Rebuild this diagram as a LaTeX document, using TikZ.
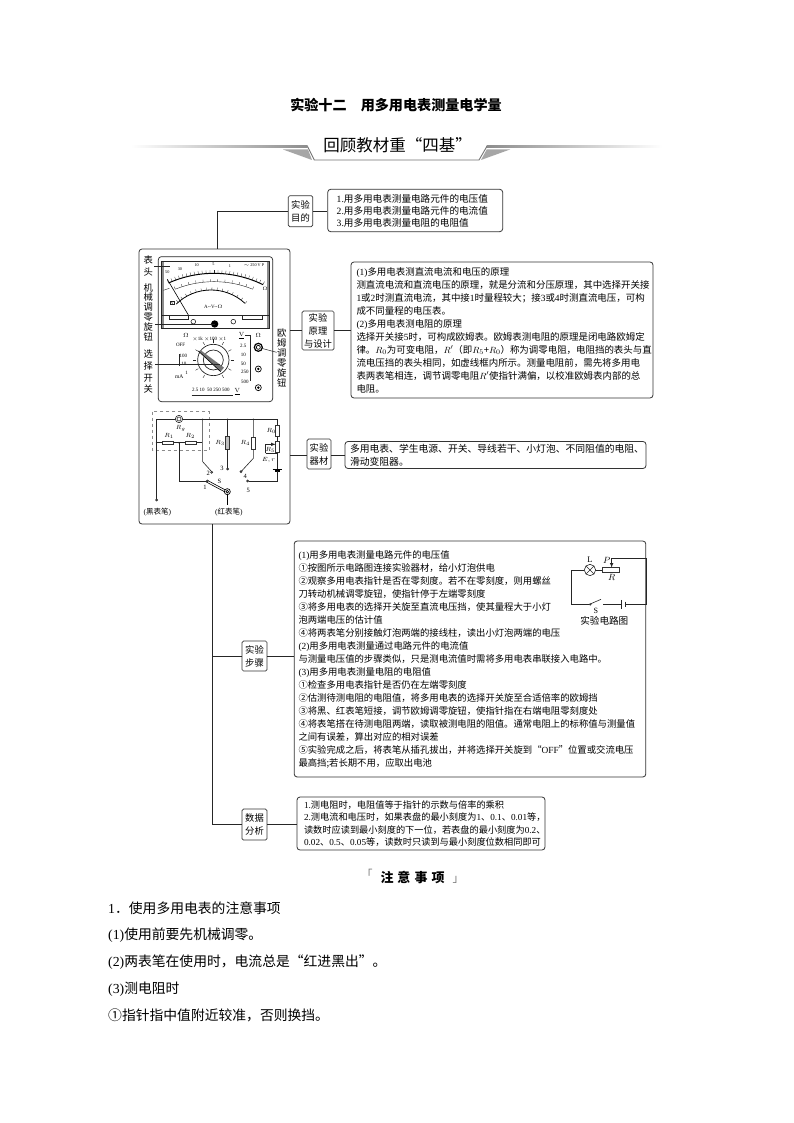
\documentclass[tikz,border=0pt]{standalone}
\usepackage[no-math]{fontspec}
\setmainfont{Noto Sans CJK SC}
\newfontfamily\latin{Liberation Serif}
\usepackage{amsmath}
\usetikzlibrary{calc}
\usetikzlibrary{positioning}
\newcommand{\lt}[1]{{\latin #1}}
\newcommand{\fs}[2]{\fontsize{#1}{#2}\selectfont}
\tikzset{>=latex}
\tikzset{tagbox/.style = {draw = black!80, rounded corners = 1.5pt, line width = 0.7pt, inner sep = 2pt, align = center, font = \fs{9.3}{13}}}
\tikzset{txtbox/.style = {draw = black!80, rounded corners = 3pt, line width = 0.8pt, inner ysep = 0pt, align = left}}
\tikzset{tiny/.style = {inner sep = 0, font = \fs{5}{6}\latin}}
\tikzset{dial/.style = {inner sep = 0, font = \fs{4.2}{5}\latin}}
\tikzset{lab/.style = {inner sep = 0, font = \fs{9.3}{10}}}
\tikzset{cir/.style = {inner sep = 0, font = \fs{6.5}{7}\latin}}
\tikzset{res/.style = {draw = black!80, fill = white, line width = 0.6pt}}
\tikzset{wire/.style = {draw = black!85, line width = 0.6pt}}
\tikzset{link/.style = {draw = black!85, line width = 0.7pt}}
\tikzset{bodytxt/.style = {anchor = west, inner sep = 0, font = \fs{13.8}{16}}}
\begin{document}
\begin{tikzpicture}[x = 1pt, y = -1pt]
\useasboundingbox [fill = white] (0, 0) rectangle (794, 1123);
% title and banner
\node [inner sep = 0, font = \fs{14.1}{16}\bfseries] (title) at (396, 105) {实验十二\hspace{1em}用多用电表测量电学量};
\shade [left color = white, right color = black!45] (131, 146) rectangle (307.7, 147.4);
\shade [left color = black!45, right color = white] (486.7, 146) rectangle (662, 147.4);
\draw [black!55, line width = 0.9pt] (307.7, 146.7) -- (314.3, 160) -- (479, 160) -- (486.7, 146.7);
\fill [black!35] (283, 149.5) -- (308, 149.5) -- (312, 160) -- cycle;
\fill [black!35] (510, 149.5) -- (486.7, 149.5) -- (481, 160) -- cycle;
\node [inner sep = 0, font = \fs{16.5}{18}] (banner) at (397.5, 145) {回顾教材重“四基”};
% boxes on the right
\node [tagbox, minimum width = 24.4pt, minimum height = 31pt] (tagA) at (300.5, 211.2) {实验\\目的};
\node [txtbox, inner xsep = 9pt, text width = 157pt, minimum height = 42.4pt, font = \fs{9.6}{12}] (txtA) at (415.2, 210.5) {\lt{1.}用多用电表测量电路元件的电压值\\\lt{2.}用多用电表测量电路元件的电流值\\\lt{3.}用多用电表测量电阻的电阻值};
\node [tagbox, minimum width = 32pt, minimum height = 39pt] (tagB) at (318, 330.5) {实验\\原理\\与设计};
\node [txtbox, inner xsep = 5.5pt, text width = 291pt, minimum height = 136pt, font = \fs{9.45}{13}] (txtB) at (502, 330) {\lt{(1)}多用电表测直流电流和电压的原理\\
测直流电流和直流电压的原理，就是分流和分压原理，其中选择开关接\\
\lt{1}或\lt{2}时测直流电流，其中接\lt{1}时量程较大；接\lt{3}或\lt{4}时测直流电压，可构\\
成不同量程的电压表。\\
\lt{(2)}多用电表测电阻的原理\\
选择开关接\lt{5}时，可构成欧姆表。欧姆表测电阻的原理是闭电路欧姆定\\
律。$R_0$为可变电阻，$R'$（即$R_5$+$R_0$）称为调零电阻，电阻挡的表头与直\\
流电压挡的表头相同，如虚线框内所示。测量电阻前，需先将多用电\\
表两表笔相连，调节调零电阻$R'$使指针满偏，以校准欧姆表内部的总\\
电阻。};
\node [tagbox, minimum width = 24pt, minimum height = 30pt] (tagC) at (319, 454) {实验\\器材};
\node [txtbox, inner xsep = 5pt, text width = 291pt, minimum height = 27pt, font = \fs{9.8}{13}] (txtC) at (495.5, 455) {多用电表、学生电源、开关、导线若干、小灯泡、不同阻值的电阻、\\滑动变阻器。};
\node [tagbox, minimum width = 25pt, minimum height = 30pt] (tagD) at (254.5, 656) {实验\\步骤};
\node [txtbox, inner xsep = 4.3pt, text width = 343pt, minimum height = 236pt, font = \fs{9.35}{13}] (txtD) at (470, 659) {\lt{(1)}用多用电表测量电路元件的电压值\\
①按图所示电路图连接实验器材，给小灯泡供电\\
②观察多用电表指针是否在零刻度。若不在零刻度，则用螺丝\\
刀转动机械调零旋钮，使指针停于左端零刻度\\
③将多用电表的选择开关旋至直流电压挡，使其量程大于小灯\\
泡两端电压的估计值\\
④将两表笔分别接触灯泡两端的接线柱，读出小灯泡两端的电压\\
\lt{(2)}用多用电表测量通过电路元件的电流值\\
与测量电压值的步骤类似，只是测电流值时需将多用电表串联接入电路中。\\
\lt{(3)}用多用电表测量电阻的电阻值\\
①检查多用电表指针是否仍在左端零刻度\\
②估测待测电阻的电阻值，将多用电表的选择开关旋至合适倍率的欧姆挡\\
③将黑、红表笔短接，调节欧姆调零旋钮，使指针指在右端电阻零刻度处\\
④将表笔搭在待测电阻两端，读取被测电阻的阻值。通常电阻上的标称值与测量值\\
之间有误差，算出对应的相对误差\\
⑤实验完成之后，将表笔从插孔拔出，并将选择开关旋到“\lt{OFF}”位置或交流电压\\
最高挡;若长期不用，应取出电池};
\node [tagbox, minimum width = 25pt, minimum height = 31pt] (tagE) at (254.5, 824.5) {数据\\分析};
\node [txtbox, inner xsep = 7pt, text width = 234pt, minimum height = 53pt, font = \fs{9.2}{12.4}] (txtE) at (421, 823.5) {\lt{1.}测电阻时，电阻值等于指针的示数与倍率的乘积\\
\lt{2.}测电流和电压时，如果表盘的最小刻度为\lt{1}、\lt{0.1}、\lt{0.01}等，\\
读数时应读到最小刻度的下一位，若表盘的最小刻度为\lt{0.2}、\\
\lt{0.02}、\lt{0.5}、\lt{0.05}等，读数时只读到与最小刻度位数相同即可};
% meter frame and trunk
\node [draw = black!80, rounded corners = 3pt, line width = 0.8pt, minimum width = 151pt, minimum height = 275pt, inner sep = 0] (meter) at (214.5, 386.5) {};
\coordinate (jA) at (217.7, 211.2);
\coordinate (jD) at (212.7, 656);
\coordinate (jE) at (212.7, 824);
\draw [link] (meter.north -| jA) -- (jA) -- (tagA.west);
\draw [link] (tagA.east) -- (txtA.west |- tagA);
\draw [link] (meter.east |- tagB) -- (tagB.west);
\draw [link] (tagB.east) -- (txtB.west |- tagB);
\draw [link] (meter.east |- txtC) -- (tagC.west |- txtC);
\draw [link] (tagC.east |- txtC) -- (txtC.west);
\draw [link] (meter.south -| jE) -- (jE) -- (tagE.west |- jE);
\draw [link] (jD) -- (tagD.west);
\draw [link] (tagD.east) -- (txtD.west |- tagD);
\draw [link] (tagE.east |- jE) -- (txtE.west |- jE);
% multimeter
\begin{scope}[shift = {(130, 245)}, x = 0.3333pt, y = -0.3333pt]
\draw [black!85, rounded corners = 3pt, line width = 0.7pt] (85, 35) rectangle (428, 470);
\draw [black!85, line width = 0.6pt] (95, 50) rectangle (418, 250);
\fill [black!45] (95, 50) rectangle (101, 250);
\fill [black!45] (412, 50) rectangle (418, 250);
\draw [black!85, line width = 0.6pt] (95, 210) -- (418, 210);
\draw [black!85, line width = 0.5pt] (118, 210) rectangle (175, 222);
\draw [black!85, line width = 0.5pt] (338, 210) rectangle (398, 222);
\draw [black!85, line width = 0.6pt] (190, 230) circle [radius = 7];
\fill [black] (254, 237) circle [radius = 11];
\draw [black!85, line width = 0.6pt] (310, 230) circle [radius = 7];
\begin{scope}[shift = {(252, 420)}, y = 0.3333pt]
\draw [black, line width = 1pt] (64:335) arc [start angle = 64, end angle = 114, radius = 335];
\foreach \a in {64, 66, ..., 114} {\draw [black!85, line width = 0.3pt] (\a:335) -- (\a:345);}
\draw [black!85, line width = 0.4pt] (68:310) arc [start angle = 68, end angle = 112, radius = 310];
\foreach \a in {68, 72, ..., 112} {\draw [black!85, line width = 0.3pt] (\a:310) -- (\a:318);}
\end{scope}
\begin{scope}[shift = {(243, 285)}, y = 0.3333pt]
\draw [black, line width = 0.8pt] (47:150) arc [start angle = 47, end angle = 134, radius = 150];
\foreach \a in {47, 53, ..., 134} {\draw [black!85, line width = 0.3pt] (\a:150) -- (\a:158);}
\end{scope}
\draw [black, line width = 0.6pt] (175, 210) -- (112, 103);
\draw [black!85, line width = 0.4pt] (100, 136) -- (118, 130);
\node [dial] (dialA) at (112, 80) {50};
\node [dial] (dialB) at (150, 72) {30};
\node [dial] (dialC) at (200, 60) {10};
\node [dial] (dialD) at (250, 58) {5};
\node [dial] (dialE) at (300, 62) {1};
\node [dial] (dialF) at (372, 60) {$\sim$ 250 V P};
\node [dial] (dialG) at (405, 132) {$\Omega$};
\node [dial, draw = black!85, line width = 0.3pt, inner sep = 0.5pt] (dialI) at (127, 173) {V};
\node [inner sep = 0, font = \fs{5}{6}\latin] (dialJ) at (250, 185) {A--V--$\Omega$};
% selector
\draw [black!85, line width = 0.7pt] (250, 345) circle [radius = 47];
\draw [black!85, line width = 0.7pt] (250, 345) circle [radius = 30];
\fill [black!55] (205, 318) -- (215, 318) -- (282, 368) -- (272, 380) -- cycle;
\draw [black, line width = 0.6pt] (205, 318) -- (272, 380);
\begin{scope}[shift = {(250, 345)}, y = 0.3333pt]
\foreach \a in {-60, -30, ..., 240} {\draw [black!85, line width = 0.4pt] (\a:52) -- (\a:62);}
\end{scope}
\node [inner sep = 0, font = \fs{6}{7}\latin] (ohmL) at (168, 270) {$\Omega$};
\node [tiny] (offL) at (152, 301) {OFF};
\node [tiny] (kL) at (238, 282) {$\times$1k $\times$100 $\times$1};
\node [inner sep = 0, font = \fs{6}{7}\latin] (voltL) at (335, 272) {$\underline{\mathrm{V}}$};
\node [tiny] (vA) at (340, 303) {2.5};
\node [tiny] (vB) at (340, 331) {10};
\node [tiny] (vC) at (340, 356) {50};
\node [tiny] (vD) at (345, 382) {250};
\node [tiny] (vE) at (345, 410) {500};
\node [tiny] (mA) at (160, 332) {100};
\node [tiny] (mB) at (162, 357) {10};
\node [tiny] (mC) at (170, 383) {1};
\node [inner sep = 0, font = \fs{5.5}{6}\latin] (mD) at (148, 396) {mA};
\node [tiny] (bottomV) at (243, 435) {2.5\ 10\ \ 50\ 250\ 500};
\node [inner sep = 0, font = \fs{6}{7}\latin] (bottomU) at (322, 440) {$\underline{\mathrm{V}}$};
\draw [black!85, line width = 0.5pt] (185, 450) -- (310, 450);
\draw [black!85, line width = 0.4pt] (148, 328) -- (148, 362);
\draw [black!85, line width = 0.4pt] (345, 270) -- (360, 270) -- (360, 408);
\node [inner sep = 0, font = \fs{6}{7}\latin] (ohmR) at (385, 272) {$\Omega$};
\draw [black, line width = 1.2pt] (385, 307) circle [radius = 12];
\draw [black, line width = 0.7pt] (385, 307) circle [radius = 6];
\draw [black, line width = 0.7pt] (385, 372) circle [radius = 9];
\fill [black] (385, 372) circle [radius = 4];
\draw [black, line width = 0.7pt] (385, 428) circle [radius = 9];
\fill [black] (385, 428) circle [radius = 4];
% meter labels and leaders
\node [lab, align = center, font = \fs{9.3}{11.7}] (biaotou) at (55, 62) {表\\头};
\node [lab, align = center, font = \fs{9.3}{9.8}] (jixie) at (55, 201) {机\\械\\调\\零\\旋\\钮};
\node [lab, align = center, font = \fs{9.3}{11.7}] (xuanze) at (55, 380) {选\\择\\开\\关};
\node [lab, align = center, font = \fs{9.3}{10}] (oumu) at (455, 340) {欧\\姆\\调\\零\\旋\\钮};
\draw [black!85, line width = 0.5pt] (72, 65) -- (120, 65);
\draw [black!85, line width = 0.5pt] (75, 238) -- (254, 238);
\draw [black!85, line width = 0.5pt] (75, 357) -- (270, 357);
\draw [black!85, line width = 0.5pt] (440, 322) -- (395, 310);
\end{scope}
% circuit in the frame
\begin{scope}[shift = {(130, 400)}, x = 0.3333pt, y = -0.3333pt]
\draw [black!45, dashed, line width = 0.6pt] (68, 35) rectangle (237, 152);
\draw [wire] (80, 300) -- (80, 58) -- (442, 58) -- (442, 207);
\draw [wire] (80, 128) -- (218, 128);
\draw [black!55, line width = 1pt] (218, 58) -- (218, 152);
\draw [wire] (218, 152) -- (218, 185) -- (245, 215);
\draw [wire] (147, 128) -- (147, 243) -- (230, 243);
\draw [wire] (293, 58) -- (293, 203);
\draw [wire] (370, 58) -- (370, 175) -- (335, 213);
\draw [wire] (442, 224) -- (442, 243) -- (357, 243);
\draw [wire, fill = white] (147, 57) circle [radius = 11];
\draw [wire] (147, 57) circle [radius = 6];
\draw [res] (97, 123) rectangle (131, 133);
\draw [res] (165, 123) rectangle (200, 133);
\draw [res, fill = black!25] (287, 110) rectangle (299, 148);
\draw [res] (364, 113) rectangle (376, 147);
\draw [res] (437, 75) rectangle (449, 110);
\draw [res] (437, 123) rectangle (449, 156);
\draw [wire, ->] (407, 160) -- (407, 133) -- (437, 133);
\draw [wire] (407, 160) -- (442, 160);
\draw [black, line width = 0.7pt] (428, 208) -- (456, 208);
\draw [black, line width = 1.2pt] (435, 213) -- (449, 213);
\draw [wire] (442, 213) -- (442, 224);
\draw [black, line width = 0.6pt] (232, 241) -- (290, 272);
\draw [black, line width = 0.6pt] (229, 246) -- (287, 277);
\draw [black, line width = 0.7pt, fill = white] (292, 275) circle [radius = 9];
\draw [black, line width = 0.7pt] (292, 275) circle [radius = 4];
\draw [black, line width = 1.5pt] (293, 285) -- (293, 315);
\foreach \p in {(80, 300), (245, 217), (293, 207), (333, 215), (353, 243), (232, 243)} {\draw [wire, fill = white] \p circle [radius = 3];}
\foreach \p in {(80, 128), (147, 128), (218, 58), (293, 58), (370, 58), (442, 160)} {\fill [black!85] \p circle [radius = 2.5];}
\node [cir] (rgLab) at (152, 84) {$R_g$};
\node [cir] (rA) at (117, 108) {$R_1$};
\node [cir] (rB) at (181, 108) {$R_2$};
\node [cir] (rC) at (270, 128) {$R_3$};
\node [cir] (rD) at (346, 128) {$R_4$};
\node [cir] (rE) at (424, 92) {$R_0$};
\node [cir] (rF) at (421, 149) {$R_5$};
\node [cir] (er) at (416, 180) {$E,r$};
\node [cir] (nA) at (225, 262) {1};
\node [cir] (nB) at (235, 220) {2};
\node [cir] (nC) at (276, 205) {3};
\node [cir] (nD) at (346, 228) {4};
\node [cir] (nE) at (355, 270) {5};
\node [cir] (nS) at (268, 243) {S};
\node [inner sep = 0, font = \fs{7.5}{8}] (blackpen) at (82, 335) {\lt{(}黑表笔\lt{)}};
\node [inner sep = 0, font = \fs{7.5}{8}] (redpen) at (297, 335) {\lt{(}红表笔\lt{)}};
\end{scope}
% small circuit
\begin{scope}[shift = {(235, 535)}, x = 0.3333pt, y = -0.3333pt]
\draw [wire] (1048, 105) -- (1010, 105) -- (1010, 208) -- (1063, 208);
\draw [wire] (1068, 206) -- (1098, 193);
\draw [wire] (1105, 208) -- (1160, 208);
\draw [wire] (1172, 208) -- (1235, 208) -- (1235, 70) -- (1130, 70);
\draw [wire, ->] (1130, 70) -- (1130, 98);
\draw [wire] (1082, 105) -- (1103, 105);
\draw [res] (1103, 98) rectangle (1152, 112);
\draw [black!85, line width = 0.7pt] (1160, 195) -- (1160, 222);
\draw [black!85, line width = 0.7pt] (1172, 200) -- (1172, 216);
\draw [wire] (1065, 105) circle [radius = 17];
\draw [wire] (1053, 93) -- (1077, 117);
\draw [wire] (1053, 117) -- (1077, 93);
\draw [wire, fill = white] (1066, 208) circle [radius = 2.5];
\node [cir, font = \fs{8.5}{9}\latin] (lamp) at (1065, 75) {L};
\node [cir, font = \fs{9}{10}\latin] (slideP) at (1115, 75) {$P$};
\node [cir, font = \fs{9}{10}\latin] (slideR) at (1130, 126) {$R$};
\node [cir, font = \fs{8}{9}\latin] (switch) at (1083, 228) {S};
\node [inner sep = 0, font = \fs{9.6}{10}] (circap) at (1108, 258) {实验电路图};
\end{scope}
% notes
\node [inner sep = 0, font = \fs{13}{15}\bfseries] (notes) at (412.5, 877) {注\hspace{4pt}意\hspace{4pt}事\hspace{4pt}项};
\node [inner sep = 0, font = \fs{11}{13}, text = black!55] (brL) at (367, 874) {「};
\node [inner sep = 0, font = \fs{11}{13}, text = black!55] (brR) at (458, 880) {」};
\node [bodytxt] (lineA) at (108, 908) {\lt{1}．使用多用电表的注意事项};
\node [bodytxt] (lineB) at (108, 935) {\lt{(1)}使用前要先机械调零。};
\node [bodytxt] (lineC) at (108, 962) {\lt{(2)}两表笔在使用时，电流总是“红进黑出”。};
\node [bodytxt] (lineD) at (108, 989) {\lt{(3)}测电阻时};
\node [bodytxt] (lineE) at (108, 1015) {①指针指中值附近较准，否则换挡。};
\end{tikzpicture}
\end{document}
